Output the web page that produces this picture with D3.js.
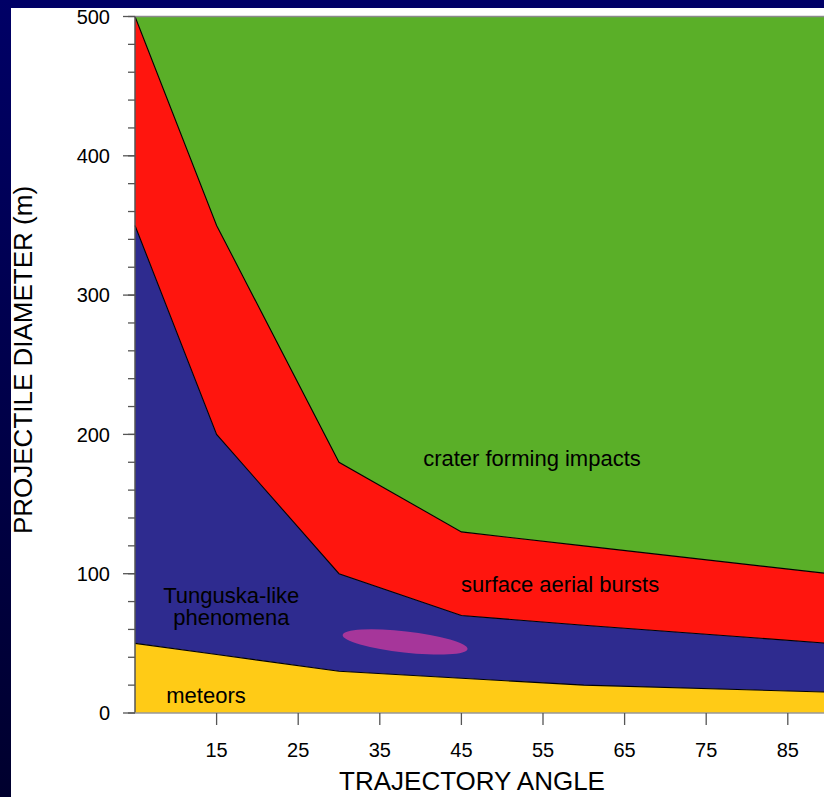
<!DOCTYPE html>
<html>
<head>
<meta charset="utf-8">
<script src="https://cdn.jsdelivr.net/npm/d3@7"></script>
<style>
  html, body { margin: 0; padding: 0; background: #fff; overflow: hidden; }
  svg { display: block; font-family: "Liberation Sans", Arial, sans-serif; }
</style>
</head>
<body>
<svg id="chart"></svg>
<script>
// data
const angles   = [5, 15, 30, 45, 60, 90];
const meteors  = [50, 42, 30, 25, 20, 15];
const tunguska = [350, 200, 100, 70, 63, 50];
const bursts   = [500, 350, 180, 130, 120, 100];
const craterTop = 500;

const xTicks = [15, 25, 35, 45, 55, 65, 75, 85];
const yTicks = [0, 100, 200, 300, 400, 500];
const yMinor = d3.range(0, 501, 20);

// pink blob (angle, diameter, half sizes in data units, tilt in degrees)
const blob = { angle: 38.1, diameter: 51, halfAngle: 7.7, halfDiameter: 7.6, tilt: 6.4 };

// region labels: [text lines, angle, diameter of first baseline]
const labels = [
  { lines: ["crater forming impacts"], angle: 53.65, diam: 177 },
  { lines: ["surface aerial bursts"], angle: 57.1, diam: 87 },
  { lines: ["Tunguska-like", "phenomena"], angle: 16.8, diam: 79 },
  { lines: ["meteors"], angle: 13.7, diam: 7.4 }
];

const width = 824, height = 797;
const svg = d3.select("#chart").attr("width", width).attr("height", height);

// navy frame
const grad = svg.append("defs").append("linearGradient")
  .attr("id", "frame").attr("x1", 0).attr("y1", 0).attr("x2", 0).attr("y2", 1);
grad.append("stop").attr("offset", 0).attr("stop-color", "#000066");
grad.append("stop").attr("offset", 1).attr("stop-color", "#00002e");
svg.append("rect").attr("width", width).attr("height", height).attr("fill", "url(#frame)");
svg.append("rect").attr("x", 11).attr("y", 8).attr("width", width).attr("height", height).attr("fill", "#fff");

const x = d3.scaleLinear().domain([5, 90]).range([135, 828.6]);
const y = d3.scaleLinear().domain([0, 500]).range([713, 16.5]);

const rows = angles.map((a, i) => ({ a, m: meteors[i], t: tunguska[i], b: bursts[i] }));

const bands = [
  { lo: d => d.b, hi: () => craterTop, fill: "#5aaf28" },
  { lo: d => d.t, hi: d => d.b, fill: "#ff150e" },
  { lo: d => d.m, hi: d => d.t, fill: "#2e2b8f" },
  { lo: () => 0, hi: d => d.m, fill: "#ffcb16" }
];

bands.forEach(bd => {
  svg.append("path")
    .datum(rows)
    .attr("fill", bd.fill)
    .attr("d", d3.area().x(d => x(d.a)).y0(d => y(bd.lo(d))).y1(d => y(bd.hi(d))));
});

// boundary lines
[d => d.m, d => d.t, d => d.b].forEach(f => {
  svg.append("path")
    .datum(rows)
    .attr("fill", "none")
    .attr("stroke", "#000")
    .attr("stroke-width", 1.1)
    .attr("d", d3.line().x(d => x(d.a)).y(d => y(f(d))));
});

// pink blob
const bx = x(blob.angle), by = y(blob.diameter);
svg.append("ellipse")
  .attr("cx", bx).attr("cy", by)
  .attr("rx", x(blob.angle + blob.halfAngle) - bx)
  .attr("ry", y(blob.diameter - blob.halfDiameter) - by)
  .attr("transform", `rotate(${blob.tilt}, ${bx}, ${by})`)
  .attr("fill", "#a6369a");

// frame line on top of plot
svg.append("line").attr("x1", x(5)).attr("x2", width).attr("y1", y(500)).attr("y2", y(500))
  .attr("stroke", "#8a8a8a").attr("stroke-width", 1.5);

// y axis
const yAxis = svg.append("g").attr("transform", `translate(${x(5)},0)`);
yAxis.append("line").attr("y1", y(0)).attr("y2", y(500)).attr("stroke", "#555").attr("stroke-width", 1.5);
yAxis.selectAll(".minor").data(yMinor).enter().append("line")
  .attr("x1", -7).attr("x2", 0).attr("y1", d => y(d)).attr("y2", d => y(d))
  .attr("stroke", "#555").attr("stroke-width", 1.3);
yAxis.selectAll(".major").data(yTicks).enter().append("line")
  .attr("x1", -12).attr("x2", 0).attr("y1", d => y(d)).attr("y2", d => y(d))
  .attr("stroke", "#555").attr("stroke-width", 1.3);
yAxis.selectAll("text").data(yTicks).enter().append("text")
  .attr("x", -25).attr("y", d => y(d)).attr("dy", "0.36em")
  .attr("text-anchor", "end").attr("font-size", 20).attr("fill", "#000")
  .text(d => d);

// x axis
const xAxis = svg.append("g").attr("transform", `translate(0,${y(0)})`);
xAxis.append("line").attr("x1", x(5)).attr("x2", width).attr("stroke", "#999").attr("stroke-width", 1.5);
xAxis.selectAll(".tick").data(xTicks).enter().append("line")
  .attr("x1", d => x(d)).attr("x2", d => x(d)).attr("y1", 0).attr("y2", 12)
  .attr("stroke", "#555").attr("stroke-width", 1.3);
xAxis.selectAll("text").data(xTicks).enter().append("text")
  .attr("x", d => x(d)).attr("y", 44)
  .attr("text-anchor", "middle").attr("font-size", 20).attr("fill", "#000")
  .text(d => d);

// axis titles
svg.append("text")
  .attr("x", 472).attr("y", 790)
  .attr("text-anchor", "middle").attr("font-size", 26)
  .text("TRAJECTORY ANGLE");
svg.append("text")
  .attr("transform", "translate(32,360) rotate(-90)")
  .attr("text-anchor", "middle").attr("font-size", 26)
  .text("PROJECTILE DIAMETER (m)");

// region labels
labels.forEach(l => {
  const t = svg.append("text")
    .attr("x", x(l.angle)).attr("y", y(l.diam))
    .attr("text-anchor", "middle").attr("font-size", 22).attr("fill", "#000");
  l.lines.forEach((s, i) => {
    t.append("tspan").attr("x", x(l.angle)).attr("dy", i === 0 ? 0 : 22).text(s);
  });
});
</script>
</body>
</html>
